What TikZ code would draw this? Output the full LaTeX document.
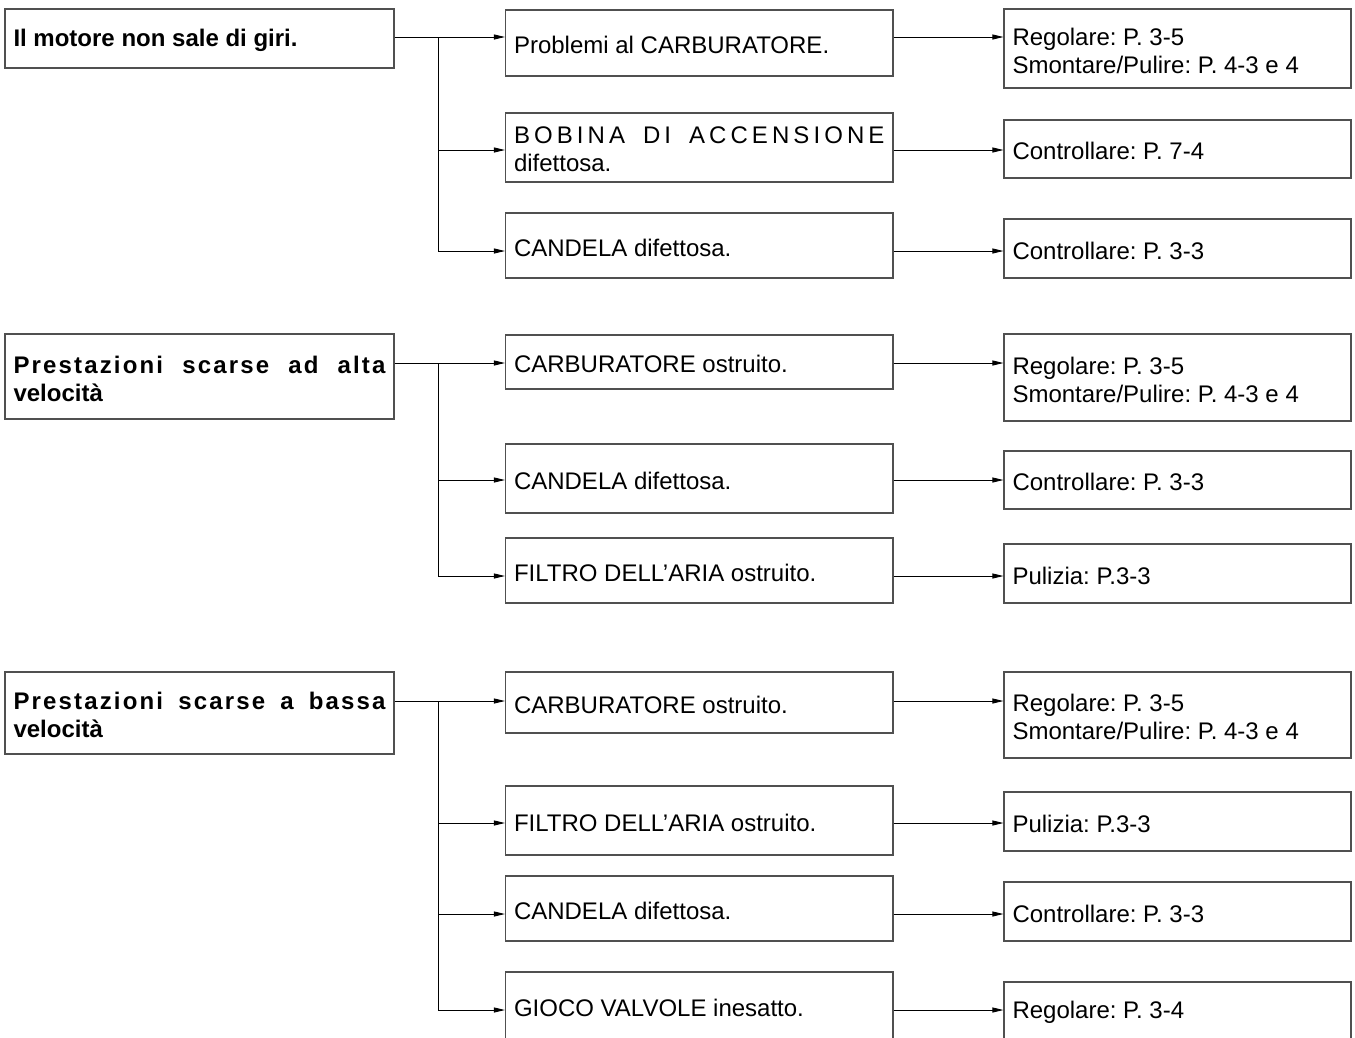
\documentclass[tikz,border=0pt]{standalone}
\usepackage{fontspec}
\setmainfont{Liberation Sans}
\usetikzlibrary{arrows.meta}
\definecolor{bord}{HTML}{505050}
\frenchspacing
\newcommand\mybox[6]{%
  \pgfmathsetmacro\bw{#4-#2}\pgfmathsetmacro\bh{#5-#3}\pgfmathsetmacro\tw{#4-#2-17}%
  \pgfmathsetmacro\cx{(#2+#4)/2}\pgfmathsetmacro\cy{-(#3+#5)/2}%
  \node[box, minimum width=\bw pt, minimum height=\bh pt] (#1) at (\cx,\cy)
    {\raisebox{-2pt}[\height][\depth]{\parbox[c]{\tw pt}{\raggedright\frenchspacing #6}}};}
\tikzset{
  box/.style={draw=bord, line width=1.1pt, inner xsep=8.5pt, inner ysep=0pt,
    font=\fontsize{24}{28}\selectfont},
  conn/.style={draw=black, line width=0.9pt, -{Triangle[length=11pt,width=5pt]}},
  trunk/.style={draw=black, line width=0.9pt}
}
\begin{document}
\begin{tikzpicture}[x=1pt,y=1pt]
\useasboundingbox (0,0) rectangle (1355,-1037);
\clip (0,0) rectangle (1355,-1037);
\fill[white] (0,0) rectangle (1355,-1037);
% left boxes
\mybox{L1}{5}{9}{394}{68}{\bfseries Il motore non sale di giri.}
\mybox{L2}{5}{334}{394}{419}{\bfseries\makebox[\linewidth]{\addfontfeatures{LetterSpace=9}Prestazioni\hfill scarse\hfill ad\hfill alta}\\velocità}
\mybox{L3}{5}{672}{394}{754}{\bfseries\makebox[\linewidth]{\addfontfeatures{LetterSpace=9}Prestazioni\hfill scarse\hfill a\hfill bassa}\\velocità}
% middle boxes
\mybox{M11}{505.5}{10}{893}{76}{Problemi al CARBURATORE.}
\mybox{M12}{505.5}{113}{893}{182}{\makebox[\linewidth]{\addfontfeatures{LetterSpace=17}BOBINA\hfill DI\hfill ACCENSIONE}\\difettosa.}
\mybox{M13}{505.5}{213}{893}{278}{CANDELA difettosa.}
\mybox{M21}{505.5}{335}{893}{389}{CARBURATORE ostruito.}
\mybox{M22}{505.5}{444}{893}{513}{CANDELA difettosa.}
\mybox{M23}{505.5}{538}{893}{603}{FILTRO DELL’ARIA ostruito.}
\mybox{M31}{505.5}{672}{893}{733}{CARBURATORE ostruito.}
\mybox{M32}{505.5}{786}{893}{855}{FILTRO DELL’ARIA ostruito.}
\mybox{M33}{505.5}{876}{893}{941}{CANDELA difettosa.}
\mybox{M34}{505.5}{972}{893}{1039}{GIOCO VALVOLE inesatto.}
% right boxes
\mybox{R11}{1004}{9}{1351}{88}{Regolare: P. 3-5\\Smontare/Pulire: P. 4-3 e 4}
\mybox{R12}{1004}{120}{1351}{178}{Controllare: P. 7-4}
\mybox{R13}{1004}{219}{1351}{278}{Controllare: P. 3-3}
\mybox{R21}{1004}{334}{1351}{421}{Regolare: P. 3-5\\Smontare/Pulire: P. 4-3 e 4}
\mybox{R22}{1004}{451}{1351}{509}{Controllare: P. 3-3}
\mybox{R23}{1004}{544}{1351}{603}{Pulizia: P.3-3}
\mybox{R31}{1004}{672}{1351}{758}{Regolare: P. 3-5\\Smontare/Pulire: P. 4-3 e 4}
\mybox{R32}{1004}{792}{1351}{851}{Pulizia: P.3-3}
\mybox{R33}{1004}{882}{1351}{941}{Controllare: P. 3-3}
\mybox{R34}{1004}{982}{1351}{1039}{Regolare: P. 3-4}
% row levels and trunk coordinates
\coordinate (r11) at (438,-37);
\coordinate (r12) at (438,-150);
\coordinate (r13) at (438,-251);
\coordinate (r21) at (438,-363);
\coordinate (r22) at (438,-480);
\coordinate (r23) at (438,-576);
\coordinate (r31) at (438,-701);
\coordinate (r32) at (438,-823);
\coordinate (r33) at (438,-914);
\coordinate (r34) at (438,-1010);
% group 1
\draw[trunk] (L1.east |- r11) -- (r11);
\draw[trunk] (r11) -- (r13);
\foreach \i in {11,12,13}{
  \draw[conn] (r\i) -- (M\i.west |- r\i);
  \draw[conn] (M\i.east |- r\i) -- (R\i.west |- r\i);
}
% group 2
\draw[trunk] (L2.east |- r21) -- (r21);
\draw[trunk] (r21) -- (r23);
\foreach \i in {21,22,23}{
  \draw[conn] (r\i) -- (M\i.west |- r\i);
  \draw[conn] (M\i.east |- r\i) -- (R\i.west |- r\i);
}
% group 3
\draw[trunk] (L3.east |- r31) -- (r31);
\draw[trunk] (r31) -- (r34);
\foreach \i in {31,32,33,34}{
  \draw[conn] (r\i) -- (M\i.west |- r\i);
  \draw[conn] (M\i.east |- r\i) -- (R\i.west |- r\i);
}
\end{tikzpicture}
\end{document}
